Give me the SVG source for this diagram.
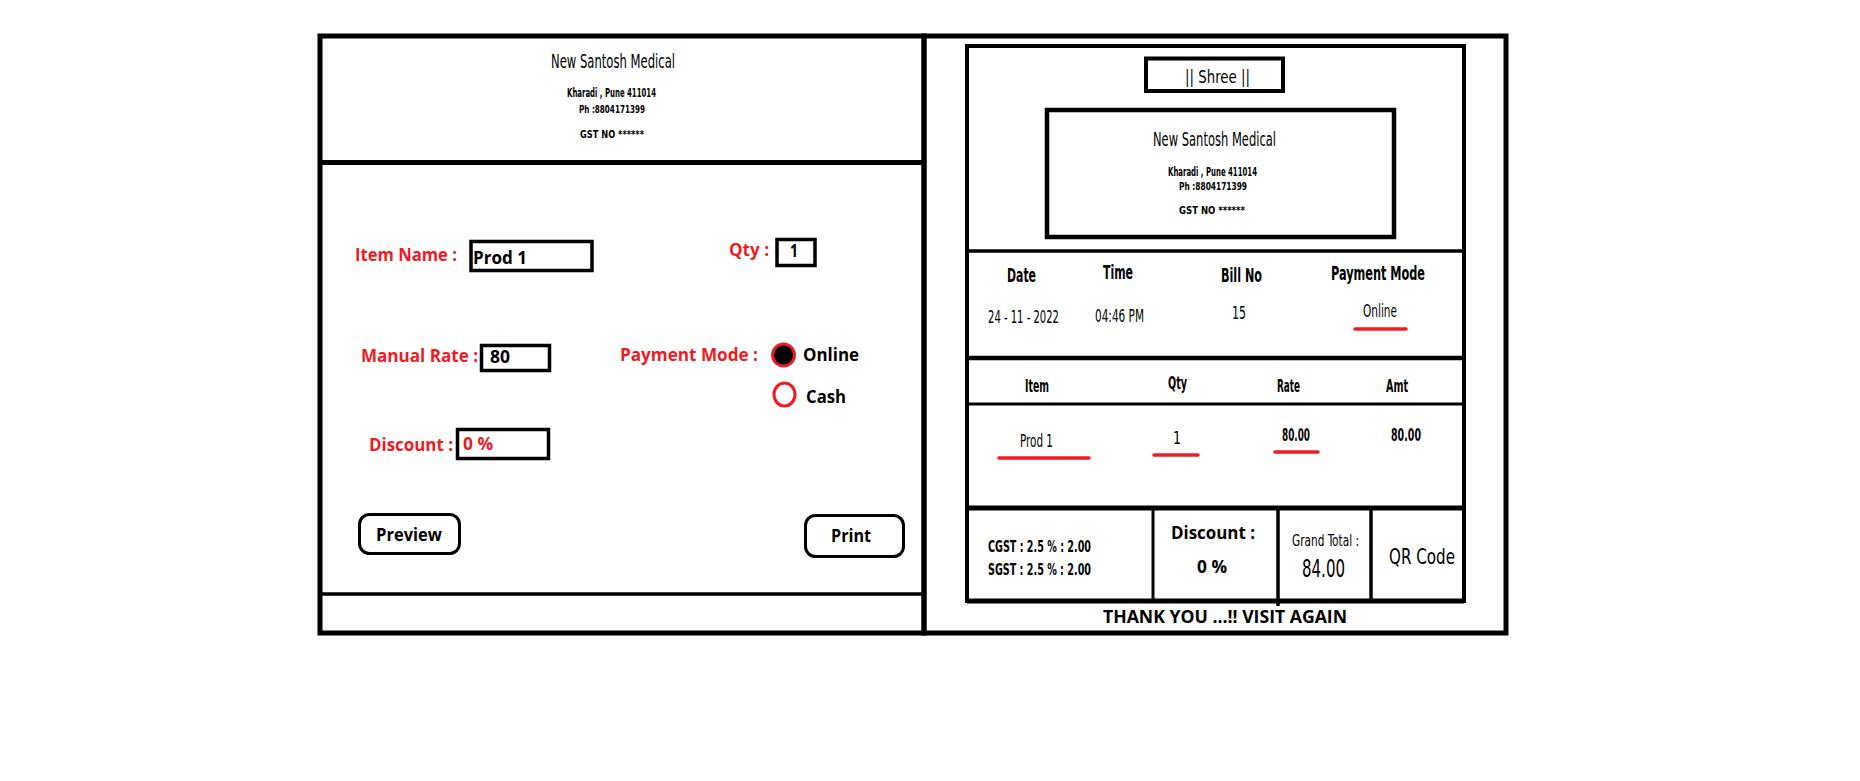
<svg xmlns="http://www.w3.org/2000/svg" width="1860" height="781" viewBox="0 0 1860 781">
<style>
.frame{fill:none;stroke:#000;stroke-width:5}
.box{fill:#fff;stroke:#000;stroke-width:3.5}
.btn{fill:#fff;stroke:#000;stroke-width:3}
.ln{stroke:#000;fill:none}
.ul{stroke:#ed1c24;stroke-width:3.5;stroke-linecap:round}
.lab{font-family:"Open Sans","Liberation Sans",sans-serif;font-weight:bold;font-size:18px;fill:#ed1c24}
.val{font-family:"Open Sans","Liberation Sans",sans-serif;font-weight:bold;font-size:18px;fill:#000}
.nar{font-family:"Liberation Sans Narrow","DejaVu Sans Condensed","Liberation Sans",sans-serif;fill:#000}
.sb{font-weight:bold}
.bld{font-family:"Open Sans","Liberation Sans",sans-serif;font-weight:bold;fill:#000}
</style>
<rect width="1860" height="781" fill="#fff"/>

<g id="left-panel">
  <rect class="frame" x="320" y="36" width="604" height="597"/>
  <line class="ln" x1="320" y1="162.5" x2="924" y2="162.5" stroke-width="5"/>
  <line class="ln" x1="320" y1="594" x2="924" y2="594" stroke-width="3.5"/>
</g>

<g id="left-header">
  <text class="nar" x="551" y="68" font-size="19" textLength="124" lengthAdjust="spacingAndGlyphs">New Santosh Medical</text>
  <text class="nar sb" x="567" y="97" font-size="12" textLength="89" lengthAdjust="spacingAndGlyphs">Kharadi , Pune 411014</text>
  <text class="nar sb" x="579" y="113" font-size="11" textLength="66" lengthAdjust="spacingAndGlyphs">Ph :8804171399</text>
  <text class="nar sb" x="580" y="138" font-size="11" textLength="64" lengthAdjust="spacingAndGlyphs">GST NO   ******</text>
</g>

<g id="field-item-name">
  <text class="lab" x="355" y="261" textLength="102" lengthAdjust="spacingAndGlyphs">Item Name :</text>
  <rect class="box" x="471" y="241.5" width="121" height="29"/>
  <text class="val" x="473" y="264" font-size="19" textLength="54" lengthAdjust="spacingAndGlyphs">Prod 1</text>
</g>

<g id="field-qty">
  <text class="lab" x="729" y="256" textLength="40" lengthAdjust="spacingAndGlyphs">Qty :</text>
  <rect class="box" x="777" y="239.5" width="38" height="26"/>
  <text class="val" x="790" y="257" textLength="8" lengthAdjust="spacingAndGlyphs">1</text>
</g>

<g id="field-manual-rate">
  <text class="lab" x="361" y="362" textLength="117" lengthAdjust="spacingAndGlyphs">Manual Rate :</text>
  <rect class="box" x="481.5" y="345.5" width="68" height="25"/>
  <text class="val" x="490" y="363" textLength="20" lengthAdjust="spacingAndGlyphs">80</text>
</g>

<g id="field-payment-mode">
  <text class="lab" x="620" y="361" textLength="138" lengthAdjust="spacingAndGlyphs">Payment Mode :</text>
  <circle cx="783.5" cy="355" r="11" fill="#000" stroke="#ed1c24" stroke-width="3"/>
  <text class="val" x="803" y="361" textLength="56" lengthAdjust="spacingAndGlyphs">Online</text>
  <ellipse cx="784.5" cy="394.5" rx="10.5" ry="11.5" fill="#fff" stroke="#ed1c24" stroke-width="3"/>
  <text class="val" x="806" y="403" textLength="40" lengthAdjust="spacingAndGlyphs">Cash</text>
</g>

<g id="field-discount">
  <text class="lab" x="369" y="451" textLength="84" lengthAdjust="spacingAndGlyphs">Discount :</text>
  <rect class="box" x="457.5" y="429.5" width="91" height="29"/>
  <text class="lab" x="463" y="450" textLength="30" lengthAdjust="spacingAndGlyphs">0 %</text>
</g>

<g id="btn-preview">
  <rect class="btn" x="359.5" y="514.5" width="100" height="39" rx="10"/>
  <text class="val" x="376" y="541" font-size="17" textLength="66" lengthAdjust="spacingAndGlyphs">Preview</text>
</g>

<g id="btn-print">
  <rect class="btn" x="805.5" y="515.5" width="98" height="41" rx="10"/>
  <text class="val" x="831" y="542" font-size="17" textLength="40" lengthAdjust="spacingAndGlyphs">Print</text>
</g>

<g id="right-panel">
  <rect class="frame" x="924" y="36" width="582" height="597"/>
</g>

<g id="receipt">
  <rect x="967" y="46" width="497" height="555" fill="none" stroke="#000" stroke-width="4"/>
  <line class="ln" x1="967" y1="251" x2="1464" y2="251" stroke-width="3.5"/>
  <line class="ln" x1="967" y1="358" x2="1464" y2="358" stroke-width="4.5"/>
  <line class="ln" x1="967" y1="404" x2="1464" y2="404" stroke-width="3"/>
  <line class="ln" x1="967" y1="508" x2="1464" y2="508" stroke-width="5"/>
  <line class="ln" x1="967" y1="601" x2="1464" y2="601" stroke-width="5"/>
</g>

<g id="receipt-shree">
  <rect x="1146" y="58.5" width="137" height="32.5" fill="none" stroke="#000" stroke-width="4"/>
  <text class="nar" x="1185" y="83" font-size="18" textLength="65" lengthAdjust="spacingAndGlyphs">|| Shree ||</text>
</g>

<g id="receipt-header">
  <rect x="1047" y="110" width="347" height="127" fill="none" stroke="#000" stroke-width="4.5"/>
  <text class="nar" x="1153" y="146" font-size="19" textLength="123" lengthAdjust="spacingAndGlyphs">New Santosh Medical</text>
  <text class="nar sb" x="1168" y="176" font-size="12" textLength="89" lengthAdjust="spacingAndGlyphs">Kharadi , Pune 411014</text>
  <text class="nar sb" x="1179" y="190" font-size="11" textLength="68" lengthAdjust="spacingAndGlyphs">Ph :8804171399</text>
  <text class="nar sb" x="1179" y="214" font-size="11" textLength="66" lengthAdjust="spacingAndGlyphs">GST NO   ******</text>
</g>

<g id="receipt-info">
  <text class="nar sb" x="1007" y="282" font-size="20" textLength="29" lengthAdjust="spacingAndGlyphs">Date</text>
  <text class="nar sb" x="1103" y="279" font-size="20" textLength="30" lengthAdjust="spacingAndGlyphs">Time</text>
  <text class="nar sb" x="1221" y="282" font-size="20" textLength="41" lengthAdjust="spacingAndGlyphs">Bill No</text>
  <text class="nar sb" x="1331" y="280" font-size="20" textLength="94" lengthAdjust="spacingAndGlyphs">Payment Mode</text>
  <text class="nar" x="988" y="323" font-size="17" textLength="71" lengthAdjust="spacingAndGlyphs">24 - 11 - 2022</text>
  <text class="nar" x="1095" y="322" font-size="17" textLength="49" lengthAdjust="spacingAndGlyphs">04:46 PM</text>
  <text class="nar" x="1232" y="319" font-size="17" textLength="14" lengthAdjust="spacingAndGlyphs">15</text>
  <text class="nar" x="1363" y="317" font-size="18" textLength="34" lengthAdjust="spacingAndGlyphs">Online</text>
  <line class="ul" x1="1355" y1="329" x2="1406" y2="329"/>
</g>

<g id="receipt-items">
  <text class="nar sb" x="1025" y="392" font-size="17" textLength="24" lengthAdjust="spacingAndGlyphs">Item</text>
  <text class="nar sb" x="1168" y="389" font-size="17" textLength="19" lengthAdjust="spacingAndGlyphs">Qty</text>
  <text class="nar sb" x="1277" y="392" font-size="17" textLength="23" lengthAdjust="spacingAndGlyphs">Rate</text>
  <text class="nar sb" x="1386" y="392" font-size="17" textLength="22" lengthAdjust="spacingAndGlyphs">Amt</text>
  <text class="nar" x="1020" y="447" font-size="17" textLength="33" lengthAdjust="spacingAndGlyphs">Prod 1</text>
  <line class="ul" x1="999" y1="458" x2="1089" y2="458"/>
  <text class="nar" x="1173" y="444" font-size="17" textLength="8" lengthAdjust="spacingAndGlyphs">1</text>
  <line class="ul" x1="1154" y1="455" x2="1198" y2="455"/>
  <text class="nar sb" x="1282" y="441" font-size="17" textLength="28" lengthAdjust="spacingAndGlyphs">80.00</text>
  <line class="ul" x1="1275" y1="452" x2="1318" y2="452"/>
  <text class="nar sb" x="1391" y="441" font-size="17" textLength="30" lengthAdjust="spacingAndGlyphs">80.00</text>
</g>

<g id="receipt-totals">
  <line class="ln" x1="1153" y1="508" x2="1153" y2="601" stroke-width="3"/>
  <line class="ln" x1="1278" y1="508" x2="1278" y2="606" stroke-width="3.5"/>
  <line class="ln" x1="1371" y1="508" x2="1371" y2="601" stroke-width="3.5"/>
  <text class="nar sb" x="988" y="552" font-size="15" textLength="103" lengthAdjust="spacingAndGlyphs">CGST : 2.5 %  :  2.00</text>
  <text class="nar sb" x="988" y="575" font-size="15" textLength="103" lengthAdjust="spacingAndGlyphs">SGST : 2.5 %  :  2.00</text>
  <text class="bld" x="1171" y="539" font-size="17" textLength="84" lengthAdjust="spacingAndGlyphs">Discount :</text>
  <text class="bld" x="1197" y="573" font-size="17" textLength="30" lengthAdjust="spacingAndGlyphs">0 %</text>
  <text class="nar" x="1292" y="546" font-size="15" textLength="67" lengthAdjust="spacingAndGlyphs">Grand Total :</text>
  <text class="nar" x="1302" y="577" font-size="25" textLength="43" lengthAdjust="spacingAndGlyphs">84.00</text>
  <text class="nar" x="1389" y="564" font-size="21" textLength="66" lengthAdjust="spacingAndGlyphs">QR Code</text>
</g>

<g id="receipt-footer">
  <text class="bld" x="1103" y="623" font-size="18" textLength="244" lengthAdjust="spacingAndGlyphs">THANK YOU ...!!  VISIT AGAIN</text>
</g>

<g id="connectors"/>
</svg>
